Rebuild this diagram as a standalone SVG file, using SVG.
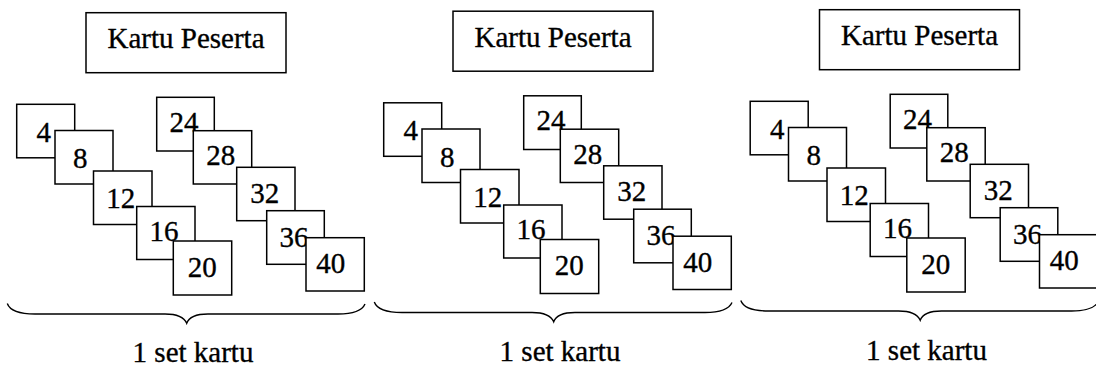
<svg xmlns="http://www.w3.org/2000/svg" width="1096" height="367" viewBox="0 0 1096 367">
<style>
.bg{fill:#fff}
.title{fill:#fff;stroke:#000;stroke-width:1.5}
.card{fill:#fff;stroke:#000;stroke-width:1.5}
text{font-family:'Liberation Serif',serif;fill:#000;stroke:#000;stroke-width:0.35}
.tt{font-size:29px;text-anchor:middle}
.num{font-size:29px}
.lbl{font-size:29px;text-anchor:middle}
.brace{fill:none;stroke:#000;stroke-width:1.4}
</style>
<rect class="bg" x="0" y="0" width="1096" height="367"/>

<g id="panel1">
  <g id="p1-title"><rect class="title" x="86" y="12.7" width="200" height="60"/><text class="tt" x="186" y="48.3">Kartu Peserta</text></g>
  <g id="p1-c4"><rect class="card" x="16.7" y="104.3" width="58" height="53.5"/><text class="num" x="36.5" y="141.7">4</text></g>
  <g id="p1-c8"><rect class="card" x="55" y="130.5" width="58" height="53.5"/><text class="num" x="73" y="168.3">8</text></g>
  <g id="p1-c12"><rect class="card" x="93.5" y="171" width="58.5" height="53.5"/><text class="num" x="106.2" y="208.3">12</text></g>
  <g id="p1-c16"><rect class="card" x="136.7" y="206.5" width="58.3" height="53"/><text class="num" x="149.5" y="240.7">16</text></g>
  <g id="p1-c20"><rect class="card" x="173.3" y="241" width="58.4" height="54"/><text class="num" x="187.8" y="276.7">20</text></g>
  <g id="p1-c24"><rect class="card" x="156.7" y="97.3" width="57.6" height="53.7"/><text class="num" x="169.5" y="131.7">24</text></g>
  <g id="p1-c28"><rect class="card" x="193.3" y="130.7" width="58.4" height="53.3"/><text class="num" x="206.2" y="165">28</text></g>
  <g id="p1-c32"><rect class="card" x="236.7" y="167.3" width="58.3" height="53.4"/><text class="num" x="250.2" y="202.7">32</text></g>
  <g id="p1-c36"><rect class="card" x="266.7" y="210.7" width="57.6" height="53.6"/><text class="num" x="279.5" y="246.7">36</text></g>
  <g id="p1-c40"><rect class="card" x="306" y="237.7" width="58.3" height="53.3"/><text class="num" x="316.2" y="273.3">40</text></g>
  <g id="p1-brace"><path class="brace" d="M7.3,303.5 C10,311 20,314 35,314 L165,314 C178,314 184,317 186.7,323.3 C189,317 195,314 208,314 L338,314 C353,314 362,311 365,304"/></g>
  <g id="p1-label"><text class="lbl" x="193" y="362">1 set kartu</text></g>
</g>

<g id="panel2" transform="translate(367,-1.5)">
  <g id="p2-title"><rect class="title" x="86" y="12.7" width="200" height="60"/><text class="tt" x="186" y="48.3">Kartu Peserta</text></g>
  <g id="p2-c4"><rect class="card" x="16.7" y="104.3" width="58" height="53.5"/><text class="num" x="36.5" y="141.7">4</text></g>
  <g id="p2-c8"><rect class="card" x="55" y="130.5" width="58" height="53.5"/><text class="num" x="73" y="168.3">8</text></g>
  <g id="p2-c12"><rect class="card" x="93.5" y="171" width="58.5" height="53.5"/><text class="num" x="106.2" y="208.3">12</text></g>
  <g id="p2-c16"><rect class="card" x="136.7" y="206.5" width="58.3" height="53"/><text class="num" x="149.5" y="240.7">16</text></g>
  <g id="p2-c20"><rect class="card" x="173.3" y="241" width="58.4" height="54"/><text class="num" x="187.8" y="276.7">20</text></g>
  <g id="p2-c24"><rect class="card" x="156.7" y="97.3" width="57.6" height="53.7"/><text class="num" x="169.5" y="131.7">24</text></g>
  <g id="p2-c28"><rect class="card" x="193.3" y="130.7" width="58.4" height="53.3"/><text class="num" x="206.2" y="165">28</text></g>
  <g id="p2-c32"><rect class="card" x="236.7" y="167.3" width="58.3" height="53.4"/><text class="num" x="250.2" y="202.7">32</text></g>
  <g id="p2-c36"><rect class="card" x="266.7" y="210.7" width="57.6" height="53.6"/><text class="num" x="279.5" y="246.7">36</text></g>
  <g id="p2-c40"><rect class="card" x="306" y="237.7" width="58.3" height="53.3"/><text class="num" x="316.2" y="273.3">40</text></g>
  <g id="p2-brace"><path class="brace" d="M7.3,303.5 C10,311 20,314 35,314 L165,314 C178,314 184,317 186.7,323.3 C189,317 195,314 208,314 L338,314 C353,314 362,311 365,304"/></g>
  <g id="p2-label"><text class="lbl" x="193" y="362.5">1 set kartu</text></g>
</g>

<g id="panel3" transform="translate(733.5,-3)">
  <g id="p3-title"><rect class="title" x="86" y="12.7" width="200" height="60"/><text class="tt" x="186" y="48.3">Kartu Peserta</text></g>
  <g id="p3-c4"><rect class="card" x="16.7" y="104.3" width="58" height="53.5"/><text class="num" x="36.5" y="141.7">4</text></g>
  <g id="p3-c8"><rect class="card" x="55" y="130.5" width="58" height="53.5"/><text class="num" x="73" y="168.3">8</text></g>
  <g id="p3-c12"><rect class="card" x="93.5" y="171" width="58.5" height="53.5"/><text class="num" x="106.2" y="208.3">12</text></g>
  <g id="p3-c16"><rect class="card" x="136.7" y="206.5" width="58.3" height="53"/><text class="num" x="149.5" y="240.7">16</text></g>
  <g id="p3-c20"><rect class="card" x="173.3" y="241" width="58.4" height="54"/><text class="num" x="187.8" y="276.7">20</text></g>
  <g id="p3-c24"><rect class="card" x="156.7" y="97.3" width="57.6" height="53.7"/><text class="num" x="169.5" y="131.7">24</text></g>
  <g id="p3-c28"><rect class="card" x="193.3" y="130.7" width="58.4" height="53.3"/><text class="num" x="206.2" y="165">28</text></g>
  <g id="p3-c32"><rect class="card" x="236.7" y="167.3" width="58.3" height="53.4"/><text class="num" x="250.2" y="202.7">32</text></g>
  <g id="p3-c36"><rect class="card" x="266.7" y="210.7" width="57.6" height="53.6"/><text class="num" x="279.5" y="246.7">36</text></g>
  <g id="p3-c40"><rect class="card" x="306" y="237.7" width="58.3" height="53.3"/><text class="num" x="316.2" y="273.3">40</text></g>
  <g id="p3-brace"><path class="brace" d="M7.3,303.5 C10,311 20,314 35,314 L165,314 C178,314 184,317 186.7,323.3 C189,317 195,314 208,314 L338,314 C353,314 362,311 365,304"/></g>
  <g id="p3-label"><text class="lbl" x="193" y="363">1 set kartu</text></g>
</g>
</svg>
